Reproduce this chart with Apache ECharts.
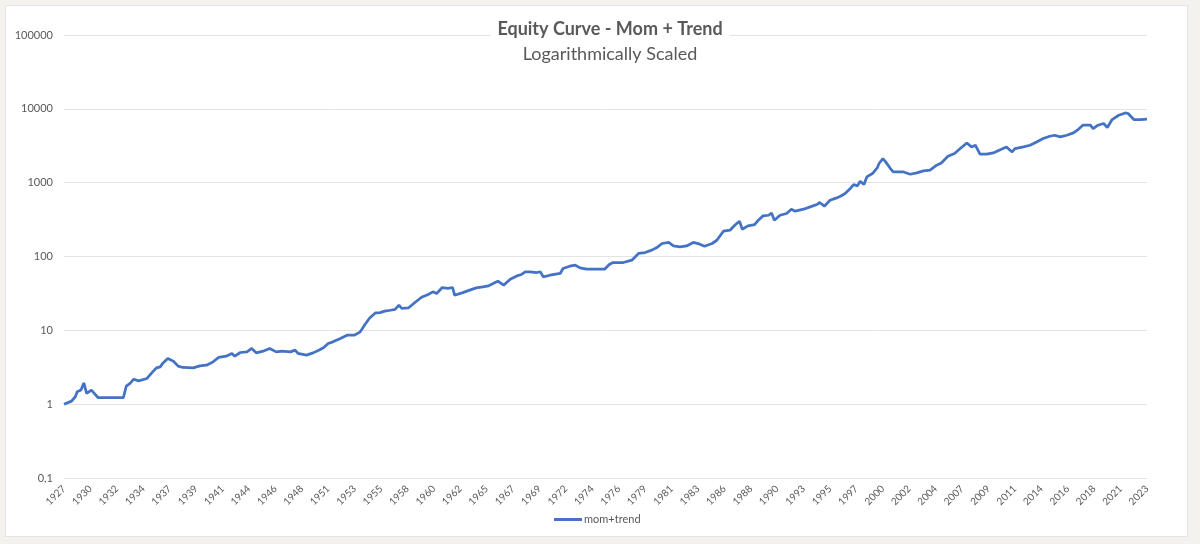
<!DOCTYPE html>
<html>
<head>
<meta charset="utf-8">
<script src="https://cdn.jsdelivr.net/npm/echarts@6/dist/echarts.min.js"></script>
<style>
  html, body { margin: 0; padding: 0; background: #f3f2ef; }
  #panel { position: absolute; left: 5px; top: 5px; width: 1181px; height: 530px; background: #ffffff; border: 1px solid #e4e4e4; }
  #chart { position: absolute; left: 0; top: 0; width: 1200px; height: 544px; }
</style>
</head>
<body>
<div id="panel"></div>
<div id="chart"></div>
<script>
// Month of each reading (YYYY-MM)
const dates = [
  '1927-12','1928-08','1928-12','1929-02','1929-06','1929-09','1929-12','1930-05','1930-07','1930-12',
  '1933-03','1933-06','1933-10','1934-02','1934-07','1935-04','1935-09','1936-02','1936-06','1936-09',
  '1937-02','1937-08','1938-01','1938-06','1939-05','1939-12','1940-07','1941-01','1941-08','1942-04',
  '1942-10','1943-01','1943-07','1944-02','1944-07','1944-12','1945-07','1946-02','1946-09','1947-03',
  '1947-12','1948-05','1948-08','1949-05','1949-12','1950-06','1950-11','1951-04','1951-09','1952-05',
  '1952-12','1953-08','1954-02','1954-07','1954-12','1955-06','1955-11','1956-04','1956-10','1957-03',
  '1957-07','1957-10','1958-05','1958-12','1959-07','1960-02','1960-07','1960-11','1961-05','1961-11',
  '1962-04','1962-06','1963-02','1963-10','1964-05','1964-12','1965-06','1966-01','1966-04','1966-10',
  '1967-05','1967-12','1968-05','1968-09','1969-02','1969-09','1970-01','1970-04','1970-11','1971-10',
  '1972-01','1972-08','1973-02','1973-07','1974-02','1975-09','1976-02','1976-06','1977-05','1978-02',
  '1978-09','1979-04','1979-11','1980-04','1980-10','1981-05','1981-10','1982-05','1982-12','1983-07',
  '1984-02','1984-07','1985-03','1985-08','1986-03','1986-10','1987-03','1987-08','1987-11','1988-05',
  '1988-12','1989-04','1989-09','1990-03','1990-06','1990-09','1991-03','1991-10','1992-03','1992-07',
  '1993-04','1993-11','1994-06','1994-09','1995-02','1995-08','1996-03','1996-07','1996-12','1997-06',
  '1997-09','1998-01','1998-04','1998-08','1998-11','1999-05','1999-10','1999-12','2000-04','2000-07',
  '2000-09','2000-12','2001-03','2002-02','2002-09','2003-04','2003-11','2004-06','2005-01','2005-06',
  '2006-01','2006-08','2007-02','2007-09','2008-02','2008-06','2008-11','2009-06','2010-01','2010-09',
  '2011-03','2011-09','2011-12','2012-09','2013-04','2013-11','2014-06','2015-01','2015-06','2015-12',
  '2016-07','2017-02','2017-07','2017-12','2018-08','2018-11','2019-04','2019-10','2019-12','2020-02',
  '2020-07','2021-02','2021-09','2021-12','2022-06','2023-01','2023-08'
];
// Equity value (mom+trend) at each month above
const momTrend = [
  1.00, 1.10, 1.26, 1.47, 1.55, 1.94, 1.40, 1.55, 1.47, 1.23,
  1.23, 1.75, 1.91, 2.18, 2.07, 2.23, 2.65, 3.10, 3.20, 3.62,
  4.16, 3.82, 3.27, 3.14, 3.10, 3.30, 3.37, 3.67, 4.29, 4.47,
  4.86, 4.47, 5.01, 5.11, 5.68, 4.95, 5.22, 5.68, 5.11, 5.22,
  5.11, 5.39, 4.86, 4.61, 4.95, 5.39, 5.79, 6.64, 6.98, 7.76,
  8.60, 8.60, 9.53, 12.0, 14.7, 17.2, 17.4, 18.2, 18.7, 19.2,
  21.9, 19.8, 20.1, 23.8, 28.1, 30.6, 33.2, 31.6, 38.0, 36.9,
  38.0, 29.9, 32.2, 35.0, 37.6, 38.8, 40.0, 44.5, 46.3, 40.9,
  49.3, 54.6, 57.1, 61.9, 61.9, 60.7, 61.9, 52.9, 55.8, 58.9,
  68.8, 73.9, 76.2, 70.1, 67.3, 67.3, 77.9, 82.9, 82.9, 89.1,
  110, 113, 122, 131, 150, 155, 139, 135, 139, 155,
  147, 138, 150, 166, 220, 227, 265, 301, 234, 260,
  271, 310, 355, 362, 389, 310, 362, 382, 437, 411,
  437, 470, 506, 539, 480, 579, 622, 655, 713, 849,
  944, 904, 1046, 944, 1196, 1330, 1584, 1817, 2123, 1910,
  2014, 1555, 1398, 1398, 1301, 1355, 1443, 1475, 1723, 1851,
  2281, 2481, 2900, 3453, 3049, 3215, 2428, 2428, 2529, 2811,
  3049, 2609, 2900, 3049, 3215, 3563, 3961, 4256, 4390, 4164,
  4390, 4718, 5245, 5996, 5996, 5410, 5996, 6324, 6646, 5582,
  7164, 8192, 8802, 8639, 7164, 7164, 7232
];
// Category labels shown on the x axis (every 28th month)
const xTickLabels = [
  '1927','1930','1932','1934','1937','1939','1941','1944','1946','1948',
  '1951','1953','1955','1958','1960','1962','1965','1967','1969','1972',
  '1974','1976','1979','1981','1983','1986','1988','1990','1993','1995',
  '1997','2000','2002','2004','2007','2009','2011','2014','2016','2018',
  '2021','2023'
];
const yTickLabels = { '0.1': '0,1', '1': '1', '10': '10', '100': '100', '1000': '1000', '10000': '10000', '100000': '100000' };
const seriesName = 'mom+trend';
const titleText = 'Equity Curve - Mom + Trend';
const subtitleText = 'Logarithmically Scaled';

// month index relative to the first month (1927-12)
function monthIndex(s) {
  const [y, m] = s.split('-').map(Number);
  return (y - 1927) * 12 + (m - 12);
}
const seriesData = dates.map((d, i) => [monthIndex(d), momTrend[i]]);
const labelStep = 28;
const lastIndex = (xTickLabels.length - 1) * labelStep;

const chart = echarts.init(document.getElementById('chart'), null, { renderer: 'canvas' });
const fontFamily = 'Lato, "Liberation Sans", sans-serif';
chart.setOption({
  backgroundColor: 'transparent',
  animation: false,
  textStyle: { fontFamily: fontFamily },
  title: {
    text: titleText,
    subtext: subtitleText,
    left: 603,
    top: 18,
    textAlign: 'center',
    backgroundColor: '#ffffff',
    padding: [2, 7, 2, 7],
    itemGap: 7,
    textStyle: { fontFamily: fontFamily, fontSize: 18, fontWeight: 'bold', color: '#595959' },
    subtextStyle: { fontFamily: fontFamily, fontSize: 18, color: '#595959' }
  },
  legend: {
    data: [seriesName],
    left: 549,
    top: 509,
    icon: 'rect',
    itemWidth: 28,
    itemHeight: 3,
    itemGap: 5,
    textStyle: { fontFamily: fontFamily, fontSize: 11, color: '#595959', padding: [0, 0, 0, -3] }
  },
  grid: { left: 64, right: 53, top: 35, bottom: 66, containLabel: false },
  xAxis: {
    type: 'value',
    min: 0,
    max: lastIndex,
    interval: labelStep,
    axisLine: { show: false },
    axisTick: { show: false },
    splitLine: { show: false },
    axisLabel: {
      rotate: 45,
      margin: 9,
      fontSize: 10,
      color: '#595959',
      fontFamily: fontFamily,
      showMinLabel: true,
      showMaxLabel: true,
      formatter: function (v) { return xTickLabels[Math.round(v / labelStep)] || ''; }
    }
  },
  yAxis: {
    type: 'log',
    logBase: 10,
    min: 0.1,
    max: 100000,
    axisLine: { show: false },
    axisTick: { show: false },
    splitLine: { show: true, lineStyle: { color: '#e3e3e3', width: 1 } },
    axisLabel: {
      margin: 11,
      fontSize: 11,
      color: '#595959',
      fontFamily: fontFamily,
      formatter: function (v) {
        const key = String(Math.round(v * 10) / 10);
        return yTickLabels[key] !== undefined ? yTickLabels[key] : key;
      }
    }
  },
  series: [{
    name: seriesName,
    type: 'line',
    data: seriesData,
    showSymbol: false,
    symbol: 'none',
    lineStyle: { color: '#4472c4', width: 2.75 },
    itemStyle: { color: '#4472c4' }
  }]
});
</script>
</body>
</html>
